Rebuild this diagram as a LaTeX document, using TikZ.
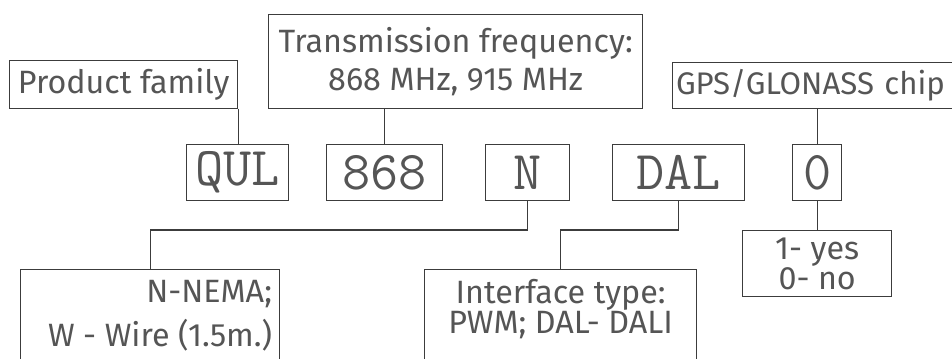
\documentclass[tikz,border=0pt]{standalone}
\usepackage{fontspec}
\setmainfont{Fira Sans}
\usepackage{xcolor}
\usetikzlibrary{positioning,calc}
\definecolor{ink}{HTML}{555555}
\definecolor{frame}{HTML}{3C3C3C}

\begin{document}
\begin{tikzpicture}[
  x=0.75pt, y=-0.75pt,
  box/.style={
    draw=frame,
    line width=1pt,
    inner sep=0pt,
    anchor=north west,
    text=ink,
    align=center
  },
  label/.style={font=\fontsize{24.2pt}{29pt}\selectfont},
  code/.style={font=\ttfamily\fontsize{41pt}{44pt}\selectfont},
  link/.style={draw=frame, line width=1pt}
]

% canvas
\path[use as bounding box, clip] (0,0) rectangle (952,359);

% Top labels
\node[box, label, minimum width=171pt, minimum height=36pt] (pf) at (9,60) {Product family};
\node[box, label, minimum width=280.5pt, minimum height=70.5pt] (tf) at (268,14) {Transmission frequency:\\868 MHz, 915 MHz};
\node[box, font=\fontsize{23.4pt}{29pt}\selectfont, minimum height=34.5pt, text width=225pt, inner xsep=2.5pt, align=left] (gps) at (672,62) {GPS/GLONASS chip};

% Code boxes
\node[box, code, minimum width=76.5pt, minimum height=42pt] (qul) at (186,144) {QUL};
\node[box, code, minimum width=87pt, minimum height=42pt] (c868) at (326,144) {868};
\node[box, code, minimum width=63pt, minimum height=42pt] (cn) at (485,144) {N};
\node[box, code, minimum width=99pt, minimum height=42pt] (cdal) at (612,144) {DAL};
\node[box, code, minimum width=36.75pt, minimum height=42pt] (czero) at (792,144) {0};

% Lower labels
\node[box, font=\fontsize{24.2pt}{19.5pt}\selectfont, minimum width=111.75pt, minimum height=49.5pt] (yn) at (742,230) {1- yes\\0- no};

\node[box, minimum width=194.25pt, minimum height=90pt] (wire) at (20,269) {};
\node[text=ink, inner sep=0pt, anchor=north east, align=right, font=\fontsize{24.2pt}{33pt}\selectfont] at ($(wire.north east)+(-8,11)$) {N-NEMA;\\W - Wire (1.5m.)};

\node[box, minimum width=204pt, minimum height=90pt] (iface) at (424,269) {};
\node[text=ink, inner sep=0pt, anchor=north, align=center, font=\fontsize{24.2pt}{22.5pt}\selectfont] at ($(iface.north)+(0,10)$) {Interface type:\\PWM; DAL- DALI};

% Connectors
\draw[link] (pf.south east) -- (pf.south east |- qul.north);
\draw[link] (c868.north) -- (c868.north |- tf.south);
\draw[link] (czero.north) -- (czero.north |- gps.south);
\draw[link] (czero.south) -- (yn.north);
\draw[link] (cn.south) -- (cn.south |- yn.north) -| (wire.north);
\draw[link] (cdal.south) -- (cdal.south |- yn.north) -| (iface.north);

\end{tikzpicture}
\end{document}
